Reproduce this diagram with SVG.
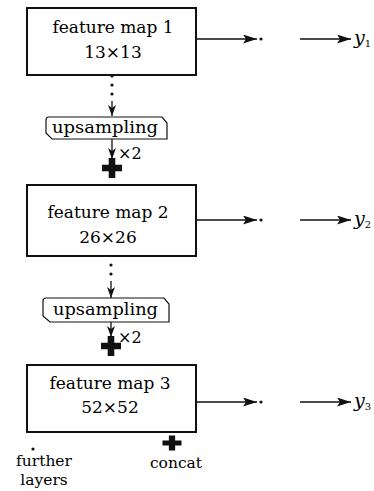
<svg xmlns="http://www.w3.org/2000/svg" width="374" height="491" viewBox="0 0 374 491">
  <style>
    text { font-family: "DejaVu Serif", "Liberation Serif", serif; fill: #000; }
    .lbl { font-size: 17px; text-anchor: middle; }
    .leg { font-size: 15.5px; text-anchor: middle; }
    .box { fill: #fff; stroke: #111; stroke-width: 2; }
    .up { fill: #fff; stroke: #111; stroke-width: 1.2; }
    .ln { stroke: #111; stroke-width: 1.3; fill: none; }
    .dot { fill: #111; }
    .plus { fill: #111; }
    .out { font-size: 19px; font-style: italic; }
    .sub { font-size: 10px; font-style: normal; }
    .x2 { font-size: 16px; }
  </style>
  <defs>
    <marker id="arrowR" markerWidth="15" markerHeight="9" refX="14" refY="4.5" orient="auto" markerUnits="userSpaceOnUse">
      <path d="M0,0 L14,4.5 L0,9 L3,4.5 Z" fill="#111"/>
    </marker>
    <marker id="arrowD" markerWidth="8" markerHeight="11" refX="4" refY="11" orient="0" markerUnits="userSpaceOnUse">
      <path d="M0,0 L4,11 L8,0 L4,3 Z" fill="#111"/>
    </marker>
    <path id="plusShape" d="M-3.3,-10 H3.3 V-3.3 H10 V3.3 H3.3 V10 H-3.3 V3.3 H-10 V-3.3 H-3.3 Z"/>
  </defs>

  <!-- connectors -->
  <g id="connectors">
    <!-- outputs of the three feature maps -->
    <line class="ln" x1="197" y1="39" x2="257" y2="39" marker-end="url(#arrowR)"/>
    <circle class="dot" cx="261" cy="39" r="1.6"/>
    <line class="ln" x1="300" y1="39" x2="351" y2="39" marker-end="url(#arrowR)"/>

    <line class="ln" x1="197" y1="220" x2="257" y2="220" marker-end="url(#arrowR)"/>
    <circle class="dot" cx="261" cy="220" r="1.6"/>
    <line class="ln" x1="300" y1="220" x2="351" y2="220" marker-end="url(#arrowR)"/>

    <line class="ln" x1="197" y1="402" x2="257" y2="402" marker-end="url(#arrowR)"/>
    <circle class="dot" cx="261" cy="402" r="1.6"/>
    <line class="ln" x1="300" y1="402" x2="351" y2="402" marker-end="url(#arrowR)"/>

    <!-- map 1 down to upsampling -->
    <circle class="dot" cx="112" cy="76" r="1.6"/>
    <circle class="dot" cx="112" cy="85" r="1.6"/>
    <circle class="dot" cx="112" cy="94" r="1.6"/>
    <line class="ln" x1="112" y1="101" x2="112" y2="116" marker-end="url(#arrowD)"/>
    <!-- upsampling to merge -->
    <line class="ln" x1="112" y1="139" x2="112" y2="159" marker-end="url(#arrowD)"/>
    <text class="x2" x="118" y="159">×2</text>
    <use href="#plusShape" class="plus" transform="translate(112,168)"/>

    <!-- map 2 down to upsampling -->
    <circle class="dot" cx="111" cy="265" r="1.6"/>
    <circle class="dot" cx="111" cy="274" r="1.6"/>
    <line class="ln" x1="111" y1="281" x2="111" y2="298" marker-end="url(#arrowD)"/>
    <line class="ln" x1="111" y1="322" x2="111" y2="337" marker-end="url(#arrowD)"/>
    <text class="x2" x="118" y="343">×2</text>
    <use href="#plusShape" class="plus" transform="translate(111,346)"/>
  </g>

  <!-- outputs -->
  <g id="y1"><text class="out" x="354" y="44">y<tspan class="sub" dy="3">1</tspan></text></g>
  <g id="y2"><text class="out" x="354" y="225">y<tspan class="sub" dy="3">2</tspan></text></g>
  <g id="y3"><text class="out" x="354" y="407">y<tspan class="sub" dy="3">3</tspan></text></g>

  <!-- feature maps -->
  <g id="fmap1">
    <rect class="box" x="27" y="8" width="169" height="67"/>
    <text class="lbl" x="113" y="33">feature map 1</text>
    <text class="lbl" x="113" y="58">13×13</text>
  </g>
  <g id="up1">
    <path class="up" d="M49,117 H162 L167,123 V139 H52 L46,133 V120 Q46,117 49,117 Z"/>
    <text x="52" y="133" font-size="17" textLength="106" lengthAdjust="spacingAndGlyphs">upsampling</text>
  </g>
  <g id="fmap2">
    <rect class="box" x="27" y="185" width="169" height="71"/>
    <text class="lbl" x="108" y="218">feature map 2</text>
    <text class="lbl" x="108" y="243">26×26</text>
  </g>
  <g id="up2">
    <path class="up" d="M46,298 H164 L169,304 V322 H50 L43,316 V301 Q43,298 46,298 Z"/>
    <text x="53" y="315" font-size="17" textLength="105" lengthAdjust="spacingAndGlyphs">upsampling</text>
  </g>
  <g id="fmap3">
    <rect class="box" x="27" y="365" width="169" height="67"/>
    <text class="lbl" x="110" y="389">feature map 3</text>
    <text class="lbl" x="110" y="413">52×52</text>
  </g>

  <!-- legend -->
  <g id="legend-further">
    <circle class="dot" cx="33" cy="449" r="1.6"/>
    <text class="leg" x="44" y="466">further</text>
    <text class="leg" x="44" y="485">layers</text>
  </g>
  <g id="legend-concat">
    <use href="#plusShape" class="plus" transform="translate(172,443) scale(0.95,0.75)"/>
    <text class="leg" x="176" y="468">concat</text>
  </g>
</svg>
